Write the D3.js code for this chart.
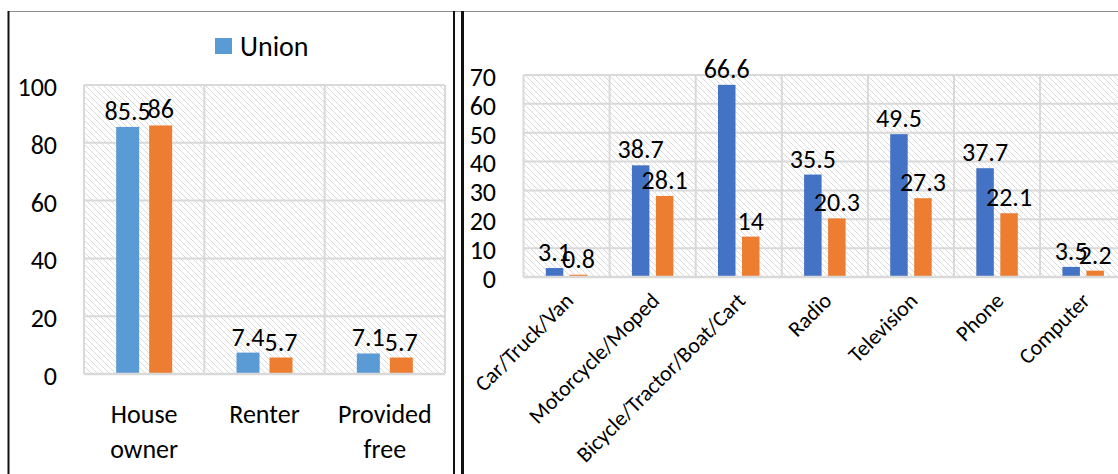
<!DOCTYPE html>
<html>
<head>
<meta charset="utf-8">
<script src="https://cdn.jsdelivr.net/npm/d3@7"></script>
<style>
  html, body { margin: 0; padding: 0; background: #fff; }
  svg { display: block; font-family: Carlito, Lato, "Open Sans", sans-serif; }
</style>
</head>
<body>
<svg id="chart" width="1118" height="474"></svg>
<script>
// ---- Data ----
const seriesNames = ["Union", "Series 2"];
const legendItems = ["Union"];

const tenureCategories = ["House owner", "Renter", "Provided free"];
const tenureUnion = [85.5, 7.4, 7.1];
const tenureOther = [86, 5.7, 5.7];
const tenureTicks = [0, 20, 40, 60, 80, 100];

const assetCategories = ["Car/Truck/Van", "Motorcycle/Moped", "Bicycle/Tractor/Boat/Cart", "Radio", "Television", "Phone", "Computer"];
const assetUnion = [3.1, 38.7, 66.6, 35.5, 49.5, 37.7, 3.5];
const assetOther = [0.8, 28.1, 14, 20.3, 27.3, 22.1, 2.2];
const assetTicks = [0, 10, 20, 30, 40, 50, 60, 70];

// ---- Drawing ----
const FS = 26;
const svg = d3.select("#chart");
const defs = svg.append("defs");
const pat = defs.append("pattern")
  .attr("id", "hatch").attr("patternUnits", "userSpaceOnUse")
  .attr("width", 6).attr("height", 6);
pat.append("rect").attr("width", 6).attr("height", 6).attr("fill", "#fff");
pat.append("path").attr("d", "M-1,-1 L7,7 M5,-1 L7,1 M-1,5 L1,7")
  .attr("stroke", "#dadada").attr("stroke-width", 1).attr("fill", "none");

// Panel frame lines
svg.append("line").attr("x1", 8).attr("x2", 1118).attr("y1", 11.5).attr("y2", 11.5)
  .attr("stroke", "#8c8c8c").attr("stroke-width", 1);
[[8.5, 2], [454, 2], [462.5, 3]].forEach(([x, w]) => {
  svg.append("line").attr("x1", x).attr("x2", x).attr("y1", 11).attr("y2", 474)
    .attr("stroke", "#111").attr("stroke-width", w);
});

function drawPanel(opts) {
  const { cats, vals, ticks, x0, x1, yTop, yZero, maxV, colors, barW, gap,
          tickX, labelMode } = opts;
  const g = svg.append("g");
  const x = d3.scaleBand().domain(cats).range([x0, x1]).paddingInner(0).paddingOuter(0);
  const y = d3.scaleLinear().domain([0, maxV]).range([yZero, yTop]);
  const groupHalf = barW + gap / 2;
  const sub = d3.scaleBand().domain(seriesNames)
    .range([-groupHalf, groupHalf]).paddingInner(gap / (barW + gap)).paddingOuter(0);

  // hatched plot area
  g.append("rect").attr("x", x0).attr("y", yTop).attr("width", x1 - x0).attr("height", yZero - yTop)
    .attr("fill", "url(#hatch)");

  // gridlines (horizontal)
  g.selectAll(".hg").data(ticks).join("line")
    .attr("x1", x0).attr("x2", x1)
    .attr("y1", d => y(d)).attr("y2", d => y(d))
    .attr("stroke", "#d9d9d9").attr("stroke-width", 2);
  // gridlines (vertical at category boundaries)
  const bounds = cats.map(c => x(c)).concat([x1]);
  g.selectAll(".vg").data(bounds).join("line")
    .attr("x1", d => d).attr("x2", d => d)
    .attr("y1", yTop).attr("y2", yZero)
    .attr("stroke", "#d9d9d9").attr("stroke-width", 2);

  // y axis
  const yAxis = d3.axisLeft(y).tickValues(ticks).tickSize(0).tickPadding(0).tickFormat(d3.format("d"));
  const ag = g.append("g").attr("transform", `translate(${tickX},0)`).call(yAxis);
  ag.select(".domain").remove();
  ag.selectAll("text").attr("font-size", FS).attr("fill", "#000")
    .attr("font-family", "Carlito, Lato, sans-serif").attr("dy", "0.4em");

  // bars
  const rows = cats.map((c, i) => ({ c, v: [vals[0][i], vals[1][i]] }));
  rows.forEach(r => {
    const cx = x(r.c) + x.bandwidth() / 2;
    seriesNames.forEach((s, si) => {
      const v = r.v[si];
      const bx = cx + sub(s);
      g.append("rect").attr("x", bx).attr("y", y(v))
        .attr("width", sub.bandwidth()).attr("height", y(0) - y(v))
        .attr("fill", colors[si]);
      g.append("text").attr("x", bx + sub.bandwidth() / 2).attr("y", y(v) - 7)
        .attr("text-anchor", "middle").attr("font-size", FS).attr("fill", "#000")
        .text(v);
    });
  });

  // zero axis line
  g.append("line").attr("x1", x0).attr("x2", x1).attr("y1", yZero).attr("y2", yZero)
    .attr("stroke", "#d9d9d9").attr("stroke-width", 2.5);

  // category labels
  if (labelMode === "wrap") {
    cats.forEach(c => {
      const cx = x(c) + x.bandwidth() / 2;
      const words = c === "Renter" ? ["Renter"] : c.split(" ");
      const t = g.append("text").attr("text-anchor", "middle").attr("font-size", FS).attr("fill", "#000");
      words.forEach((w, i) => {
        t.append("tspan").attr("x", cx).attr("y", 423 + i * 35).text(w);
      });
    });
  } else {
    cats.forEach(c => {
      const cx = x(c) + x.bandwidth() / 2;
      g.append("text")
        .attr("transform", `translate(${cx - 3},${291}) rotate(-45)`)
        .attr("text-anchor", "end").attr("dy", "0.71em")
        .attr("font-size", 22).attr("fill", "#000").text(c);
    });
  }
}

drawPanel({
  cats: tenureCategories, vals: [tenureUnion, tenureOther], ticks: tenureTicks,
  x0: 84, x1: 445, yTop: 85, yZero: 374, maxV: 100,
  colors: ["#5b9bd5", "#ed7d31"], barW: 23, gap: 10, tickX: 57, labelMode: "wrap"
});

drawPanel({
  cats: assetCategories, vals: [assetUnion, assetOther], ticks: assetTicks,
  x0: 523.5, x1: 523.5 + 7 * 86.1, yTop: 75, yZero: 277, maxV: 70,
  colors: ["#4472c4", "#ed7d31"], barW: 17.5, gap: 6.5, tickX: 496, labelMode: "rotate"
});

// legend (left panel)
const lg = svg.append("g");
lg.selectAll("rect").data(legendItems).join("rect")
  .attr("x", 215).attr("y", 38).attr("width", 17).attr("height", 16).attr("fill", "#5b9bd5");
lg.selectAll("text").data(legendItems).join("text")
  .attr("x", 240).attr("y", 56).attr("font-size", 28).attr("fill", "#000").text(d => d);
</script>
</body>
</html>
